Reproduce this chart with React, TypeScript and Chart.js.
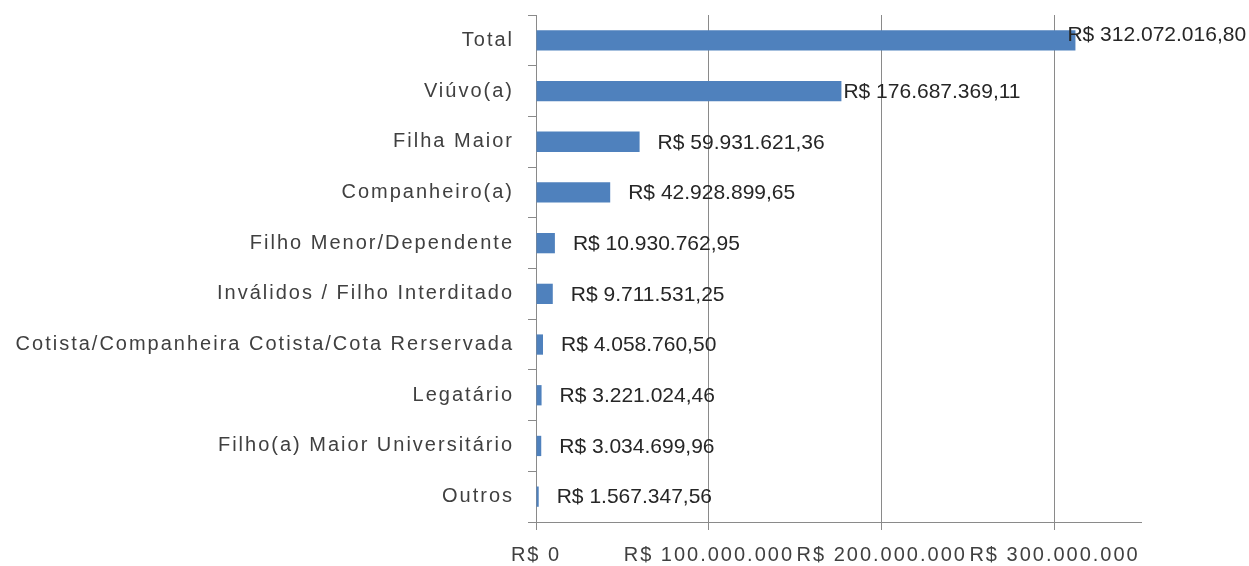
import React, { useEffect, useRef } from "react";
import { Chart, registerables } from "chart.js";

Chart.register(...registerables);

const categories = [
  "Total",
  "Viúvo(a)",
  "Filha Maior",
  "Companheiro(a)",
  "Filho Menor/Dependente",
  "Inválidos / Filho Interditado",
  "Cotista/Companheira Cotista/Cota Rerservada",
  "Legatário",
  "Filho(a) Maior Universitário",
  "Outros",
];

const values = [
  312072016.8, 176687369.11, 59931621.36, 42928899.65, 10930762.95,
  9711531.25, 4058760.5, 3221024.46, 3034699.96, 1567347.56,
];

const valueLabels = [
  "R$ 312.072.016,80",
  "R$ 176.687.369,11",
  "R$ 59.931.621,36",
  "R$ 42.928.899,65",
  "R$ 10.930.762,95",
  "R$ 9.711.531,25",
  "R$ 4.058.760,50",
  "R$ 3.221.024,46",
  "R$ 3.034.699,96",
  "R$ 1.567.347,56",
];

const xTickValues = [0, 100000000, 200000000, 300000000];
const xTickLabels = ["R$ 0", "R$ 100.000.000", "R$ 200.000.000", "R$ 300.000.000"];
const xMax = 350000000;

const FONT = "'Liberation Sans', Arial, sans-serif";

// label nudges (style only): [dx, dy] relative to default placement
const LABEL_NUDGE: Array<[number, number]> = [
  [-26, -6],
  [-16, 0],
];

const spacingPlugin = {
  id: "spacing",
  beforeDraw(chart: any) {
    (chart.ctx as any).letterSpacing = "2px";
  },
  beforeDatasetsDraw(chart: any) {
    (chart.ctx as any).letterSpacing = "0px";
  },
};

const valueLabelPlugin = {
  id: "valueLabels",
  afterDatasetsDraw(chart: any) {
    const ctx = chart.ctx;
    const meta = chart.getDatasetMeta(0);
    ctx.save();
    (ctx as any).letterSpacing = "0px";
    ctx.font = `21px ${FONT}`;
    ctx.fillStyle = "#262626";
    ctx.textAlign = "left";
    ctx.textBaseline = "middle";
    meta.data.forEach((bar: any, i: number) => {
      const nudge = LABEL_NUDGE[i] || [0, 0];
      ctx.fillText(valueLabels[i], bar.x + 18 + nudge[0], bar.y + 1 + nudge[1]);
    });
    ctx.restore();
  },
};

export default function App() {
  const ref = useRef<HTMLCanvasElement | null>(null);

  useEffect(() => {
    document.body.style.margin = "0";
    if (!ref.current) return;
    const chart = new Chart(ref.current, {
      type: "bar",
      data: {
        labels: categories,
        datasets: [
          {
            data: values,
            backgroundColor: "#4F81BD",
            borderWidth: 0,
            barPercentage: 0.4,
            categoryPercentage: 1,
          },
        ],
      },
      options: {
        indexAxis: "y",
        animation: false,
        responsive: false,
        maintainAspectRatio: false,
        layout: { padding: { top: 15, right: 108, left: 0, bottom: 0 } },
        plugins: {
          legend: { display: false },
          tooltip: { enabled: false },
        },
        scales: {
          x: {
            min: 0,
            max: xMax,
            afterBuildTicks: (scale: any) => {
              scale.ticks = xTickValues.map((v) => ({ value: v }));
            },
            afterFit: (scale: any) => {
              scale.height = 44;
            },
            ticks: {
              callback: (v: any) => {
                const i = xTickValues.indexOf(Number(v));
                return i >= 0 ? xTickLabels[i] : "";
              },
              font: { family: FONT, size: 20 },
              color: "#404040",
              padding: 13,
              maxRotation: 0,
              autoSkip: false,
            },
            grid: {
              color: "#8a8a8a",
              lineWidth: 1,
              tickLength: 8,
              drawTicks: true,
            },
            border: { color: "#8a8a8a", width: 1 },
          },
          y: {
            afterFit: (scale: any) => {
              scale.width = 536;
              scale.paddingTop = 0;
              scale.paddingBottom = 0;
            },
            ticks: {
              font: { family: FONT, size: 20 },
              color: "#404040",
              padding: 14,
              autoSkip: false,
            },
            grid: {
              drawOnChartArea: false,
              drawTicks: true,
              tickLength: 8,
              offset: true,
              color: "#8a8a8a",
            },
            border: { color: "#8a8a8a", width: 1 },
          },
        },
      },
      plugins: [spacingPlugin, valueLabelPlugin],
    });
    return () => chart.destroy();
  }, []);

  return (
    <div style={{ width: 1249, height: 566, background: "#fff" }}>
      <canvas ref={ref} width={1249} height={566} style={{ display: "block" }} />
    </div>
  );
}
